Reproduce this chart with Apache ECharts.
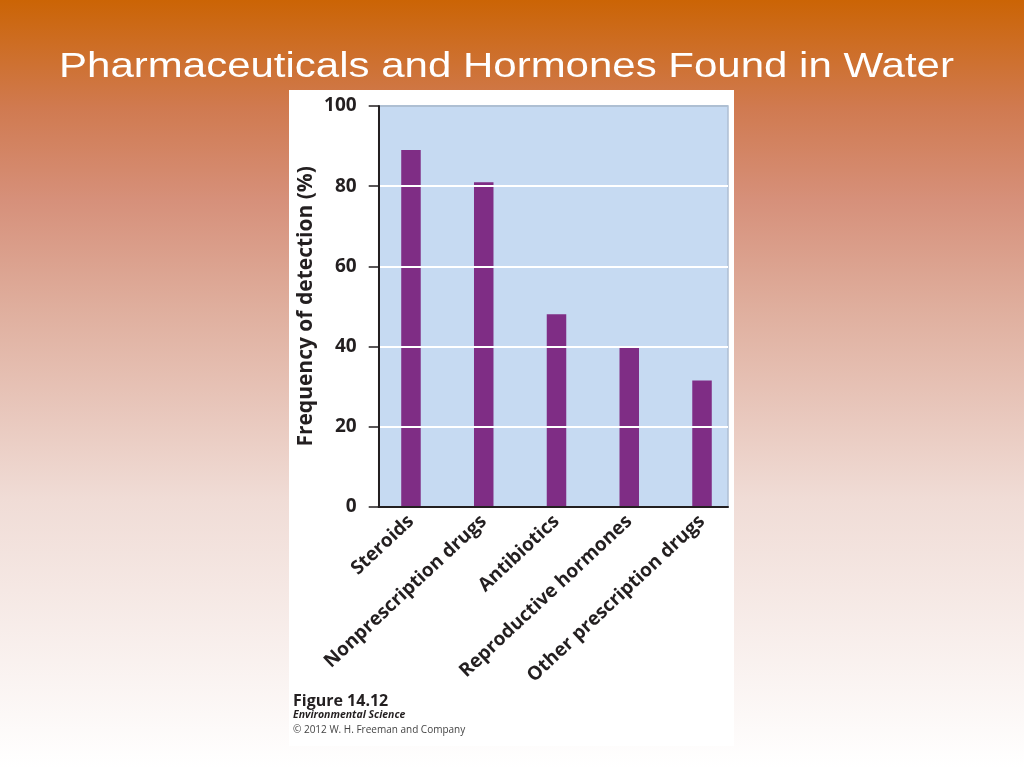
<!DOCTYPE html>
<html>
<head>
<meta charset="utf-8">
<script src="https://cdn.jsdelivr.net/npm/echarts@6/dist/echarts.min.js"></script>
<style>
html,body{margin:0;padding:0;width:1024px;height:768px;overflow:hidden;}
#chart{width:1024px;height:768px;}
</style>
</head>
<body>
<div id="chart"></div>
<script>
const titleText = 'Pharmaceuticals and Hormones Found in Water';
const categories = ['Steroids', 'Nonprescription drugs', 'Antibiotics', 'Reproductive hormones', 'Other prescription drugs'];
const detectionPct = [89, 81, 48, 40, 31.5];
const yAxisName = 'Frequency of detection (%)';
const yTicks = {min: 0, max: 100, interval: 20};
const captionLines = ['Figure 14.12', 'Environmental Science', '\u00a9 2012 W. H. Freeman and Company'];

const chart = echarts.init(document.getElementById('chart'), null, {renderer: 'canvas'});
const labelFont = '"Open Sans", "Noto Sans", sans-serif';
const ink = '#231f20';

const option = {
  animation: false,
  backgroundColor: {
    type: 'linear', x: 0, y: 0, x2: 0, y2: 1,
    colorStops: [
      {offset: 0, color: '#CB6405'},
      {offset: 0.14, color: '#D07A50'},
      {offset: 0.26, color: '#D6907A'},
      {offset: 0.40, color: '#DFAE9D'},
      {offset: 0.65, color: '#F0DCD6'},
      {offset: 1, color: '#FFFFFF'}
    ]
  },
  graphic: [
    {type: 'rect', z: -10, shape: {x: 289, y: 90, width: 445, height: 656}, style: {fill: '#ffffff'}, silent: true},
    {type: 'text', z: 10, x: 506.5, y: 67, scaleX: 1.2, style: {text: titleText, fill: '#ffffff', font: '35px "Liberation Sans", Arial, sans-serif', align: 'center', verticalAlign: 'middle'}},
    {type: 'text', left: 293, top: 693, style: {text: captionLines[0], fill: ink, font: 'bold 16px ' + labelFont}},
    {type: 'text', left: 293, top: 710, style: {text: captionLines[1], fill: ink, font: 'italic bold 10.5px ' + labelFont}},
    {type: 'text', left: 293, top: 725, style: {text: captionLines[2], fill: '#444', font: '10px ' + labelFont}}
  ],
  grid: [
    {left: 378.7, top: 106, width: 349.3, height: 400.7, show: true, backgroundColor: '#C6DAF2', borderColor: '#AEBFD3', borderWidth: 1.5},
    {left: 374.6, top: 106, width: 363.8, height: 400.7}
  ],
  xAxis: [
    {type: 'category', gridIndex: 0, data: categories, axisLine: {show: true, lineStyle: {color: ink, width: 2}}, axisTick: {show: false}, axisLabel: {show: false}, splitLine: {show: false}, z: 5},
    {type: 'category', gridIndex: 1, data: categories, axisLine: {show: false}, axisTick: {show: false},
     axisLabel: {rotate: 43, margin: 12, color: ink, fontFamily: labelFont, fontWeight: 'bold', fontSize: 19, interval: 0}}
  ],
  yAxis: [
    {type: 'value', gridIndex: 0, min: yTicks.min, max: yTicks.max, interval: yTicks.interval,
     name: yAxisName, nameLocation: 'middle', nameGap: 62, nameRotate: 90,
     nameTextStyle: {color: ink, fontFamily: labelFont, fontWeight: 'bold', fontSize: 21},
     axisLine: {show: true, lineStyle: {color: ink, width: 2}},
     axisTick: {show: true, length: 10, lineStyle: {color: ink, width: 1.5}},
     axisLabel: {margin: 22, color: ink, fontFamily: labelFont, fontWeight: 'bold', fontSize: 19},
     splitLine: {show: true, lineStyle: {color: [ink, '#ffffff', '#ffffff', '#ffffff', '#ffffff', '#AEBFD3'], width: 2}}, z: 5},
    {type: 'value', gridIndex: 1, min: yTicks.min, max: yTicks.max, interval: yTicks.interval, show: false}
  ],
  series: [
    {type: 'bar', xAxisIndex: 1, yAxisIndex: 1, data: detectionPct, barWidth: 19.5, itemStyle: {color: '#7F2D85'}, z: 3}
  ]
};
chart.setOption(option);
</script>
</body>
</html>
